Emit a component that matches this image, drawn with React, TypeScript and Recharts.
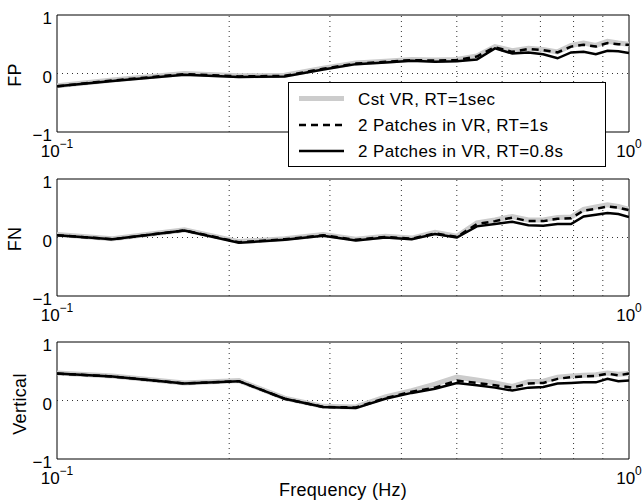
import React from 'react';
import { LineChart, Line, XAxis, YAxis, ReferenceLine, ReferenceArea } from 'recharts';

// frequency axis (Hz)
const freqs = [0.1, 0.125, 0.167, 0.208, 0.25, 0.292, 0.333, 0.375, 0.417, 0.458, 0.5, 0.542, 0.583, 0.625, 0.667, 0.708, 0.75, 0.792, 0.833, 0.875, 0.917, 0.958, 1.0];

// FP panel
const fpCst = [-0.21, -0.11, 0.0, -0.04, -0.03, 0.09, 0.18, 0.21, 0.24, 0.23, 0.24, 0.3, 0.46, 0.39, 0.43, 0.41, 0.37, 0.48, 0.52, 0.48, 0.55, 0.52, 0.5];
const fpRt1 = [-0.22, -0.12, -0.01, -0.05, -0.04, 0.08, 0.17, 0.2, 0.23, 0.22, 0.23, 0.29, 0.45, 0.37, 0.42, 0.4, 0.36, 0.46, 0.49, 0.46, 0.52, 0.5, 0.49];
const fpRt08 = [-0.22, -0.13, -0.02, -0.06, -0.05, 0.07, 0.16, 0.19, 0.22, 0.2, 0.21, 0.24, 0.43, 0.34, 0.36, 0.33, 0.26, 0.36, 0.37, 0.33, 0.39, 0.38, 0.35];

// FN panel
const fnCst = [0.05, -0.02, 0.13, -0.07, -0.02, 0.05, -0.03, 0.02, -0.01, 0.09, 0.02, 0.25, 0.3, 0.36, 0.3, 0.3, 0.34, 0.35, 0.48, 0.52, 0.56, 0.53, 0.48];
const fnRt1 = [0.04, -0.03, 0.12, -0.08, -0.03, 0.04, -0.04, 0.01, -0.02, 0.07, 0.01, 0.23, 0.28, 0.34, 0.28, 0.28, 0.32, 0.33, 0.46, 0.49, 0.53, 0.51, 0.47];
const fnRt08 = [0.04, -0.03, 0.12, -0.09, -0.04, 0.03, -0.05, 0.0, -0.03, 0.06, 0.0, 0.19, 0.23, 0.27, 0.21, 0.2, 0.23, 0.23, 0.36, 0.39, 0.42, 0.4, 0.35];

// Vertical panel
const vCst = [0.47, 0.42, 0.3, 0.34, 0.04, -0.1, -0.11, 0.06, 0.17, 0.28, 0.4, 0.35, 0.3, 0.24, 0.32, 0.33, 0.4, 0.42, 0.43, 0.44, 0.47, 0.45, 0.46];
const vRt1 = [0.46, 0.41, 0.29, 0.33, 0.03, -0.11, -0.12, 0.04, 0.15, 0.22, 0.34, 0.3, 0.26, 0.22, 0.29, 0.3, 0.37, 0.4, 0.41, 0.42, 0.46, 0.43, 0.46];
const vRt08 = [0.46, 0.41, 0.29, 0.33, 0.03, -0.11, -0.13, 0.03, 0.13, 0.2, 0.3, 0.26, 0.22, 0.17, 0.22, 0.23, 0.29, 0.3, 0.31, 0.31, 0.37, 0.33, 0.34];

const seriesNames = ['Cst VR, RT=1sec', '2 Patches in VR, RT=1s', '2 Patches in VR, RT=0.8s'];
const xTicks = [0.1, 1];
const yTicks = [-1, 0, 1];
const gridFreqs = [0.2, 0.3, 0.4, 0.5, 0.6, 0.7, 0.8, 0.9];

const FONT = '"Liberation Sans", Arial, Helvetica, sans-serif';

const makeRows = (cst: number[], rt1: number[], rt08: number[]) =>
  freqs.map((f, i) => ({ f, cst: cst[i], rt1: rt1[i], rt08: rt08[i] }));

const XTick = ({ x, y, payload }: any) => (
  <text x={x} y={y + 25} textAnchor="middle" fontFamily={FONT} fontSize={17} fill="#000">
    <tspan>10</tspan>
    <tspan dy={-9} fontSize={12}>{payload.value < 1 ? '\u22121' : '0'}</tspan>
  </text>
);

const YTick = ({ y, payload }: any) => (
  <text x={52} y={y + 9} textAnchor="end" fontFamily={FONT} fontSize={17} fill="#000">
    {payload.value < 0 ? '\u2212' + Math.abs(payload.value) : String(payload.value)}
  </text>
);

const Panel = ({ rows, label, top, labelX, labelY }: any) => (
  <div style={{ position: 'absolute', left: 0, top }}>
    <LineChart width={644} height={165} data={rows} margin={{ top: 15, right: 15, bottom: 0, left: 17 }}>
      <XAxis
        dataKey="f"
        type="number"
        scale="log"
        domain={[0.1, 1]}
        ticks={xTicks}
        allowDataOverflow
        axisLine={false}
        tickLine={false}
        tickSize={0}
        tickMargin={0}
        height={33}
        tick={<XTick />}
      />
      <YAxis
        domain={[-1, 1]}
        ticks={yTicks}
        width={40}
        axisLine={false}
        tickLine={false}
        tick={<YTick />}
      />
      {gridFreqs.map((g) => (
        <ReferenceLine key={g} x={g} stroke="#333" strokeWidth={1} strokeDasharray="1 4" />
      ))}
      <ReferenceLine y={0} stroke="#333" strokeWidth={1} strokeDasharray="1 4" />
      <ReferenceArea x1={0.1} x2={1} y1={-1} y2={1} fill="none" fillOpacity={0} stroke="#000" strokeWidth={1} />
      <Line type="linear" dataKey="cst" stroke="#cccccc" strokeWidth={5} dot={false} isAnimationActive={false} />
      <Line type="linear" dataKey="rt1" stroke="#000" strokeWidth={2.5} strokeDasharray="7 5" dot={false} isAnimationActive={false} />
      <Line type="linear" dataKey="rt08" stroke="#000" strokeWidth={2.5} dot={false} isAnimationActive={false} />
    </LineChart>
    <svg width={40} height={165} style={{ position: 'absolute', left: 0, top: 0 }}>
      <text
        x={labelX}
        y={labelY}
        transform={`rotate(-90 ${labelX} ${labelY})`}
        textAnchor="middle"
        fontFamily={FONT}
        fontSize={18}
        letterSpacing={0.3}
        fill="#000"
      >
        {label}
      </text>
    </svg>
  </div>
);

const LegendBox = () => {
  const rows = [
    { name: seriesNames[0], color: '#cccccc', width: 5, dash: undefined },
    { name: seriesNames[1], color: '#000', width: 2.5, dash: '7 5' },
    { name: seriesNames[2], color: '#000', width: 2.5, dash: undefined },
  ];
  const rowY = [15.5, 42, 68];
  return (
    <div
      style={{
        position: 'absolute',
        left: 288,
        top: 82,
        width: 316,
        height: 83,
        border: '1px solid #000',
        background: '#fff',
      }}
    >
      <svg width={316} height={83} style={{ position: 'absolute', left: 0, top: 0 }}>
        {rows.map((r, i) => (
          <g key={r.name}>
            <line x1={10} x2={55} y1={rowY[i]} y2={rowY[i]} stroke={r.color} strokeWidth={r.width} strokeDasharray={r.dash} />
            <text x={69} y={rowY[i] + 6} fontFamily={FONT} fontSize={17} letterSpacing={0.4} fill="#000">
              {r.name}
            </text>
          </g>
        ))}
      </svg>
    </div>
  );
};

export default function App() {
  return (
    <div style={{ position: 'absolute', left: 0, top: 0, width: 644, height: 504, background: '#fff', fontFamily: FONT }}>
      <Panel rows={makeRows(fpCst, fpRt1, fpRt08)} label="FP" top={0} labelX={21} labelY={75} />
      <Panel rows={makeRows(fnCst, fnRt1, fnRt08)} label="FN" top={164} labelX={21} labelY={75} />
      <Panel rows={makeRows(vCst, vRt1, vRt08)} label="Vertical" top={327} labelX={26} labelY={77} />
      <LegendBox />
      <div
        style={{
          position: 'absolute',
          left: 0,
          width: 686,
          top: 480,
          textAlign: 'center',
          fontSize: 18,
          letterSpacing: 0.3,
          color: '#000',
        }}
      >
        Frequency (Hz)
      </div>
    </div>
  );
}
